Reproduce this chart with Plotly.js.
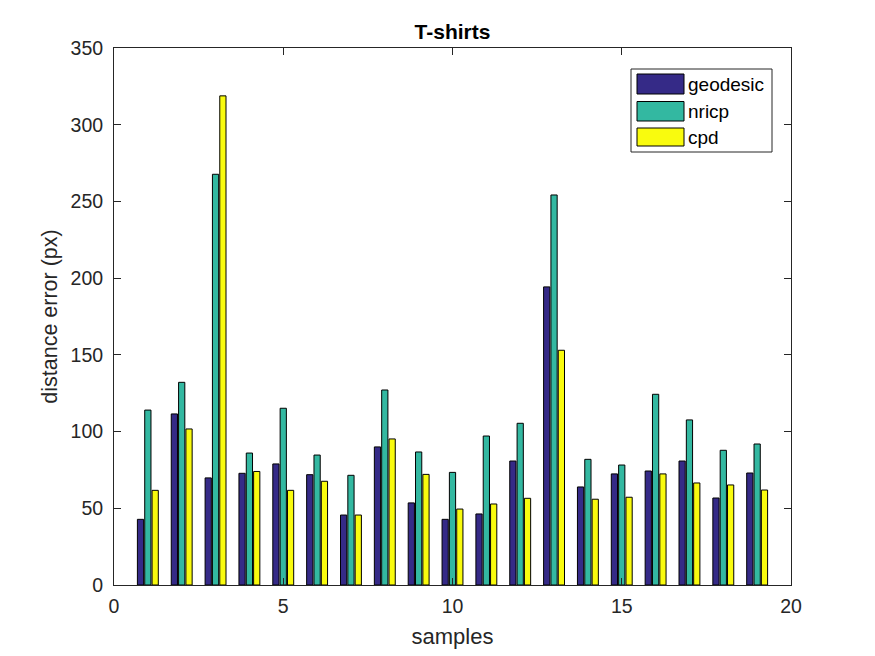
<!DOCTYPE html>
<html>
<head>
<meta charset="utf-8">
<script src="https://cdn.plot.ly/plotly-3.0.1.min.js"></script>
<style>html,body{margin:0;padding:0;background:#fff;}#chart{width:875px;height:656px;}</style>
</head>
<body>
<div id="chart"></div>
<script>
var samples = [1,2,3,4,5,6,7,8,9,10,11,12,13,14,15,16,17,18,19];
var geodesic = [42.8,111.5,69.8,72.8,78.9,71.9,45.6,90.0,53.5,42.8,46.3,80.8,194.3,63.9,72.4,74.3,80.8,56.7,73.0];
var nricp = [114.0,132.1,267.7,86.0,115.2,84.7,71.5,127.1,86.7,73.4,97.1,105.4,254.2,81.9,78.2,124.3,107.6,87.8,91.9];
var cpd = [61.7,101.7,318.8,74.0,61.7,67.6,45.6,95.2,72.1,49.5,52.8,56.5,153.0,55.9,57.2,72.4,66.5,65.2,61.9];
var seriesNames = ['geodesic','nricp','cpd'];
var seriesColors = ['#352a87','#33b8a1','#f9fb0e'];
var xTicks = [0,5,10,15,20];
var yTicks = [0,50,100,150,200,250,300,350];

var font = '"Liberation Sans", Arial, Helvetica, sans-serif';
var ink = '#262626';
var data = [geodesic, nricp, cpd].map(function(vals, i){
  return {type:'bar', x:samples, y:vals, name:seriesNames[i],
    marker:{color:seriesColors[i], line:{color:'#000', width:1}}, showlegend:false,
    hovertemplate:'%{y}<extra>'+seriesNames[i]+'</extra>'};
});

// manual MATLAB-style legend (paper coords)
var L = 114, R = 791, T = 48, B = 585;
function px(x){return (x-L)/(R-L);}
function py(y){return (B-y)/(B-T);}
var shapes = [{type:'rect', xref:'paper', yref:'paper', x0:px(631), x1:px(772), y0:py(152), y1:py(69),
  line:{color:ink, width:1}, fillcolor:'#fff'}];
var annotations = [];
var rows = [[74,94],[101.5,121],[128,146]];
rows.forEach(function(r, i){
  shapes.push({type:'rect', xref:'paper', yref:'paper', x0:px(637), x1:px(684), y0:py(r[1]), y1:py(r[0]),
    line:{color:'#000', width:1}, fillcolor:seriesColors[i]});
  annotations.push({xref:'paper', yref:'paper', x:px(686), y:py((r[0]+r[1])/2), xanchor:'left', yanchor:'middle',
    text:seriesNames[i], showarrow:false, font:{family:font, size:19, color:'#000'}});
});

var layout = {
  width:875, height:656,
  margin:{l:114, r:84, t:48, b:71, pad:0},
  paper_bgcolor:'#fff', plot_bgcolor:'#fff',
  barmode:'group', bargap:0.35, bargroupgap:0.15,
  title:{text:'<b>T-shirts</b>', font:{family:font, size:21, color:'#000'}, x:0.5+ (114-84)/2/875, xanchor:'center', y:1-32/656, yanchor:'middle'},
  xaxis:{range:[0,20], tickvals:xTicks, ticks:'inside', ticklen:7, tickcolor:ink, mirror:'ticks',
    showline:true, linecolor:ink, linewidth:1, showgrid:false, zeroline:false,
    ticklabelstandoff:4,
    tickfont:{family:font, size:19.5, color:ink},
    title:{text:'samples', font:{family:font, size:22, color:ink}, standoff:12}},
  yaxis:{range:[0,350], tickvals:yTicks, ticks:'inside', ticklen:7, tickcolor:ink, mirror:'ticks',
    showline:true, linecolor:ink, linewidth:1, showgrid:false, zeroline:false,
    ticklabelstandoff:6,
    tickfont:{family:font, size:19.5, color:ink},
    title:{text:'distance error (px)', font:{family:font, size:21.5, color:ink}, standoff:7}},
  shapes:shapes, annotations:annotations
};
Plotly.newPlot('chart', data, layout, {displayModeBar:false, staticPlot:true});
</script>
</body>
</html>
